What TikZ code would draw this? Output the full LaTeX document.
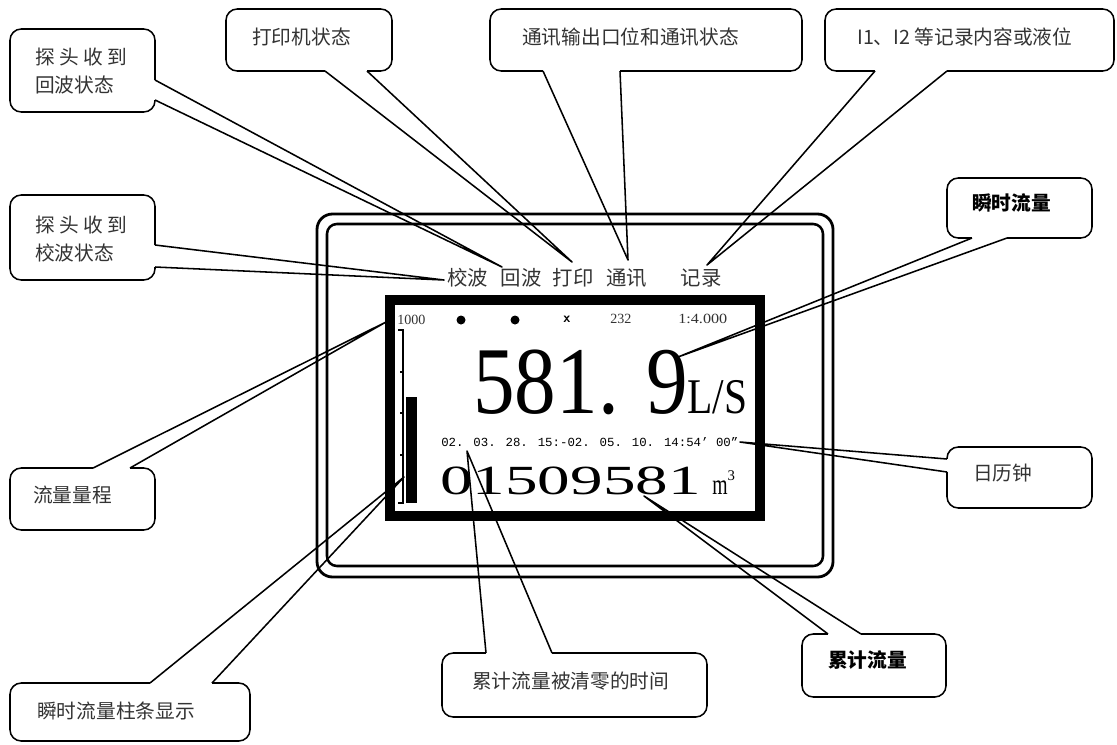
\documentclass[tikz,border=0pt]{standalone}
\usepackage{fontspec}
\setmainfont{Liberation Serif}
\newfontfamily\cjk{Noto Sans CJK SC}
\newfontfamily\lcdmono{Liberation Mono}
\usepackage{graphicx}
\usetikzlibrary{
    positioning,
    calc,
    fit
}

\begin{document}
\begin{tikzpicture}[x=0.025cm, y=-0.025cm,
    callout/.style={draw, line width=1.1pt, rounded corners=8pt, fill=white, inner sep=0pt},
    erase/.style={white, line width=1.8pt},
    wedge/.style={line width=1.1pt, line join=round},
    tag/.style={font=\cjk\fontsize{14}{20}\selectfont, text=black!80, inner sep=0pt, anchor=west, align=left},
    boldtag/.style={tag, font=\cjk\bfseries\fontsize{14}{20}\selectfont, text=black},
    key/.style={font=\cjk\fontsize{14.5}{17}\selectfont, text=black!80, inner sep=0pt},
    lcd/.style={inner sep=0pt, anchor=base west}]
    \useasboundingbox (0,0) rectangle (1117,744);

    % housing and screen
    \draw[line width=2pt, rounded corners=11pt] (317,214) rectangle (833,577);
    \draw[line width=1.8pt, rounded corners=7pt] (327,224) rectangle (823,566);
    \draw[line width=7.1pt] (390,300) rectangle (760,516);

    % keys above the screen
    \node[key] (calKey)   at (467.5,278) {校波};
    \node[key] (echoKey)  at (521,278)   {回波};
    \node[key] (printKey) at (573,278)   {打印};
    \node[key] (commKey)  at (626.5,278) {通讯};
    \node[key] (recKey)   at (701,278)   {记录};

    % status line
    \node[lcd, text=black!80, font=\fontsize{10}{12}\selectfont] (rangeVal) at (397,324) {1000};
    \fill (461,320) circle (3.2pt);
    \fill (515,320) circle (3.2pt);
    \node[inner sep=0pt, font=\sffamily\bfseries\fontsize{10}{11}\selectfont] (commMark) at (567,319) {x};
    \node[lcd, text=black!80, font=\fontsize{10}{12}\selectfont] (portVal) at (610,323) {232};
    \node[lcd, text=black!80, font=\fontsize{10}{12}\selectfont] (ratioVal) at (678,323) {\scalebox{1.15}[1]{1:4.000}};

    % readings
    \node[lcd, font=\fontsize{68}{70}\selectfont] (rate) at (473,413) {\scalebox{0.87}[1]{581. 9}};
    \node[lcd, font=\fontsize{35.5}{38}\selectfont] (rateUnit) at (687,413) {\scalebox{0.83}[1]{L/S}};
    \node[lcd, font=\lcdmono\fontsize{8.8}{11}\selectfont] (clock) at (441,446) {02. 03. 28. 15:-02. 05. 10. 14:54’ 00”};
    \node[lcd, font=\fontsize{29.5}{31}\selectfont] (total) at (440,494) {\scalebox{1.57}[1]{01509581}};
    \node[lcd, font=\fontsize{20.6}{22}\selectfont] (totalUnit) at (712,494) {\scalebox{0.68}[1]{m}\raisebox{9.5pt}{\fontsize{10.5}{11}\selectfont 3}};

    % flow bar
    \draw[line width=1.2pt] (398,330) -- (403,330) -- (403,503) -- (398,503);
    \foreach \y in {372,413,455}
        \draw[line width=1.2pt] (400,\y) -- (403,\y);
    \fill (406,397) rectangle (417,503);

    % callout boxes
    \node[callout, fit={(10,29) (155,112)}]    (echoBox)  {};
    \node[callout, fit={(226,9) (392,71)}]     (printBox) {};
    \node[callout, fit={(490,9) (802,71)}]     (commBox)  {};
    \node[callout, fit={(825,9) (1114,71)}]    (recBox)   {};
    \node[callout, fit={(10,195) (155,280)}]   (calBox)   {};
    \node[callout, fit={(10,468) (155,530)}]   (rangeBox) {};
    \node[callout, fit={(10,683) (250,741)}]   (barBox)   {};
    \node[callout, fit={(442,653) (707,717)}]  (resetBox) {};
    \node[callout, fit={(802,634) (946,697)}]  (totalBox) {};
    \node[callout, fit={(947,178) (1092,238)}] (rateBox)  {};
    \node[callout, fit={(947,447) (1092,508)}] (clockBox) {};

    \node[tag] (echoText)  at (35,71)   {探 头 收 到\\回波状态};
    \node[tag] (printText) at (252,37)  {打印机状态};
    \node[tag] (commText)  at (522,37)  {通讯输出口位和通讯状态};
    \node[tag] (recText)   at (857,37)  {I1、I2 等记录内容或液位};
    \node[tag] (calText)   at (35,239)  {探 头 收 到\\校波状态};
    \node[tag] (rangeText) at (33,495)  {流量量程};
    \node[tag] (barText)   at (37,711)  {瞬时流量柱条显示};
    \node[tag] (resetText) at (472,681) {累计流量被清零的时间};
    \node[boldtag] (totalText) at (828,660) {累计流量};
    \node[boldtag] (rateText)  at (972,203) {瞬时流量};
    \node[tag] (clockText) at (973,473) {日历钟};

    % pointer tips
    \coordinate (echoTip)  at (502,267);
    \coordinate (printTip) at (572,262);
    \coordinate (commTip)  at (628,260);
    \coordinate (recTip)   at (707,265);
    \coordinate (calTip)   at (444,280);
    \coordinate (rangeTip) at (386,322);
    \coordinate (barTip)   at (404,477);
    \coordinate (resetTip) at (467,451);
    \coordinate (totalTip) at (644,496);
    \coordinate (rateTip)  at (678,357);
    \coordinate (clockTip) at (740,442);

    % pointers: open the box edge, then the two sides of the wedge
    \foreach \ax/\ay/\bx/\by/\tip in {
        155/80/155/100/echoTip,
        325/71/367/71/printTip,
        543/71/620/71/commTip,
        875/71/947/71/recTip,
        155/245/155/267/calTip,
        93/468/130/468/rangeTip,
        150/683/212/683/barTip,
        486/653/552/653/resetTip,
        828/634/861/634/totalTip,
        972/238/1007/238/rateTip,
        947/459/947/472/clockTip}{
        \draw[erase] (\ax,\ay) -- (\bx,\by);
        \draw[wedge] (\ax,\ay) -- (\tip) -- (\bx,\by);
    }
\end{tikzpicture}
\end{document}
